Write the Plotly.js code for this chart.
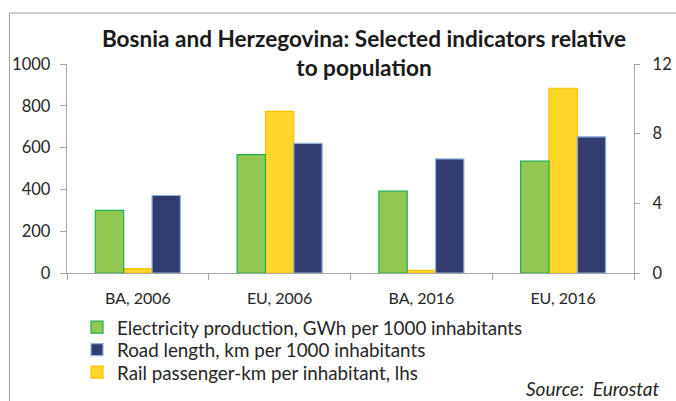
<!DOCTYPE html>
<html>
<head>
<meta charset="utf-8">
<script src="https://cdn.plot.ly/plotly-3.0.1.min.js"></script>
<style>
html,body{margin:0;padding:0;background:#fff;}
#chart{width:676px;height:401px;}
</style>
</head>
<body>
<div id="chart"></div>
<script>
// Data
const categories = ["BA, 2006", "EU, 2006", "BA, 2016", "EU, 2016"];
const electricity = [3.6, 6.8, 4.7, 6.42];      // GWh per 1000 inhabitants (rhs)
const railPassengerKm = [21, 773, 13, 884];     // passenger-km per inhabitant (lhs)
const roadLength = [4.45, 7.44, 6.55, 7.82];    // km per 1000 inhabitants (rhs)
const leftTicks = [0, 200, 400, 600, 800, 1000];
const rightTicks = [0, 4, 8, 12];

const FONT = "Lato, 'Open Sans', sans-serif";
const TXT = "#262626";
const AX = "#A6A6A6";

const traces = [
  {
    type: "bar", name: "Electricity production, GWh per 1000 inhabitants",
    x: categories, y: electricity, yaxis: "y2", legend: "legend",
    width: 0.2, offset: -0.3,
    marker: {color: "#92C751", line: {color: "#1DB04F", width: 1.2}},
    hoverinfo: "y"
  },
  {
    type: "bar", name: "Rail passenger-km per inhabitant, lhs",
    x: categories, y: railPassengerKm, yaxis: "y", legend: "legend3",
    width: 0.2, offset: -0.1,
    marker: {color: "#FFD52A", line: {color: "#FFC000", width: 1.2}},
    hoverinfo: "y"
  },
  {
    type: "bar", name: "Road length, km per 1000 inhabitants",
    x: categories, y: roadLength, yaxis: "y2", legend: "legend2",
    width: 0.2, offset: 0.1,
    marker: {color: "#333C71", line: {color: "#8DB3E2", width: 1.2}},
    hoverinfo: "y"
  }
];

const W = 676, H = 401, ml = 67, mr = 42, mt = 64, mb = 128;
const pw = W - ml - mr, ph = H - mt - mb;
const px2x = p => (p - ml) / pw;
const py2y = p => (H - mb - p) / ph;

function legendAt(yPx) {
  return {
    orientation: "v",
    x: px2x(77), xanchor: "left",
    y: py2y(yPx), yanchor: "middle",
    font: {family: FONT, size: 18.8, color: TXT},
    bgcolor: "rgba(0,0,0,0)",
    itemwidth: 30
  };
}

const layout = {
  width: W, height: H,
  margin: {l: ml, r: mr, t: mt, b: mb, pad: 0, autoexpand: false},
  paper_bgcolor: "#ffffff", plot_bgcolor: "#ffffff",
  font: {family: FONT, color: TXT, size: 15.5},
  barmode: "overlay",
  showlegend: true,
  title: {
    text: "<b>Bosnia and Herzegovina: Selected indicators relative<br>to population</b>",
    font: {family: FONT, size: 22.6, color: "#1a1a1a"},
    x: 364 / W, xanchor: "center", xref: "container",
    y: 1 - 47 / H, yanchor: "top", yref: "container"
  },
  xaxis: {
    type: "category", categoryorder: "array", categoryarray: categories,
    showline: true, linecolor: AX, linewidth: 1.3,
    ticks: "outside", tickson: "boundaries", ticklen: 6, tickcolor: AX,
    ticklabelstandoff: 10,
    showgrid: false, zeroline: false,
    tickfont: {family: FONT, size: 16, color: TXT}
  },
  yaxis: {
    range: [0, 1000], tickvals: leftTicks, ticktext: leftTicks.map(String),
    showline: true, linecolor: AX, linewidth: 1.3,
    ticks: "outside", ticklen: 6, tickcolor: AX,
    ticklabelstandoff: 6,
    showgrid: false, zeroline: false,
    tickfont: {family: FONT, size: 16.5, color: TXT}
  },
  yaxis2: {
    range: [0, 12], tickvals: rightTicks, ticktext: rightTicks.map(String),
    overlaying: "y", side: "right",
    showline: true, linecolor: AX, linewidth: 1.3,
    ticks: "outside", ticklen: 5, tickcolor: AX,
    ticklabelstandoff: 9,
    showgrid: false, zeroline: false,
    tickfont: {family: FONT, size: 16.5, color: TXT}
  },
  legend: legendAt(327.5),
  legend2: legendAt(350),
  legend3: legendAt(372.5),
  annotations: [{
    text: "Source:  Eurostat", showarrow: false,
    xref: "paper", yref: "paper",
    x: px2x(662), xanchor: "right",
    y: py2y(388), yanchor: "middle",
    font: {family: FONT, size: 19, color: TXT, style: "italic"}
  }],
  shapes: [
    {type: "line", xref: "paper", yref: "paper", x0: px2x(9.5), x1: px2x(9.5), y0: py2y(13), y1: py2y(410),
     line: {color: "#9E9E9E", width: 1}},
    {type: "line", xref: "paper", yref: "paper", x0: px2x(9.5), x1: px2x(690), y0: py2y(13), y1: py2y(13),
     line: {color: "#9E9E9E", width: 1}}
  ]
};

Plotly.newPlot("chart", traces, layout, {staticPlot: true, displayModeBar: false});
</script>
</body>
</html>
